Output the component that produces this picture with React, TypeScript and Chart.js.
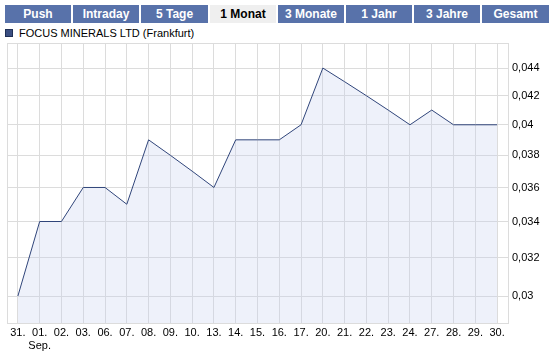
import React, { useEffect, useRef } from "react";
import { Chart, registerables } from "chart.js";

Chart.register(...registerables);

const tabs = ["Push", "Intraday", "5 Tage", "1 Monat", "3 Monate", "1 Jahr", "3 Jahre", "Gesamt"];
const activeTab = "1 Monat";
const seriesName = "FOCUS MINERALS LTD (Frankfurt)";

const categories: (string | string[])[] = [
  "31.", ["01.", "Sep."], "02.", "03.", "06.", "07.", "08.", "09.", "10.", "13.", "14.", "15.",
  "16.", "17.", "20.", "21.", "22.", "23.", "24.", "27.", "28.", "29.", "30.",
];
const prices = [
  0.03, 0.034, 0.034, 0.036, 0.036, 0.035, 0.039, 0.038, 0.037, 0.036, 0.039, 0.039,
  0.039, 0.04, 0.044, 0.043, 0.042, 0.041, 0.04, 0.041, 0.04, 0.04, 0.04,
];
const yTicks = [0.03, 0.032, 0.034, 0.036, 0.038, 0.04, 0.042, 0.044];
const yMin = 0.02867;
const yMax = 0.04589;

const FONT = "'Liberation Sans', Arial, sans-serif";
const GRID = "#dcdcdc";

const frame = {
  id: "frame",
  beforeDatasetsDraw(chart: any) {
    const { ctx, chartArea: a } = chart;
    ctx.save();
    ctx.strokeStyle = GRID;
    ctx.lineWidth = 1;
    ctx.strokeRect(Math.round(a.left) + 0.5, Math.round(a.top) + 0.5, Math.round(a.right - a.left), Math.round(a.bottom - a.top));
    ctx.restore();
  },
};

export default function App() {
  const ref = useRef<HTMLCanvasElement | null>(null);

  useEffect(() => {
    if (!ref.current) return;
    const chart = new Chart(ref.current, {
      type: "line",
      data: {
        labels: categories,
        datasets: [
          {
            label: seriesName,
            data: prices,
            borderColor: "#30457a",
            borderWidth: 1,
            backgroundColor: "rgba(198,208,238,0.3)",
            fill: "start",
            pointRadius: 0,
            tension: 0,
          },
        ],
      },
      options: {
        animation: false,
        responsive: false,
        devicePixelRatio: 1,
        layout: { padding: { left: 7, top: 43, right: 0, bottom: 0 } },
        plugins: { legend: { display: false }, tooltip: { enabled: false } },
        scales: {
          x: {
            offset: true,
            grid: { color: GRID, drawTicks: false, offset: false },
            border: { display: false },
            ticks: {
              autoSkip: false,
              maxRotation: 0,
              padding: 3,
              color: "#000",
              font: { family: FONT, size: 11 },
            },
            afterFit: (s: any) => {
              s.height = 28;
            },
          },
          y: {
            type: "logarithmic",
            position: "right",
            min: yMin,
            max: yMax,
            grid: { color: GRID, drawTicks: false },
            border: { display: false },
            afterBuildTicks: (s: any) => {
              s.ticks = yTicks.map((v) => ({ value: v }));
            },
            ticks: {
              padding: 4,
              color: "#000",
              font: { family: FONT, size: 11 },
              callback: (v: any) => String(v).replace(".", ","),
            },
            afterFit: (s: any) => {
              s.width = 47;
            },
          },
        },
      },
      plugins: [frame],
    });
    return () => chart.destroy();
  }, []);

  return (
    <div style={{ position: "fixed", left: 0, top: 0, width: 555, height: 351, background: "#fff", overflow: "hidden" }}>
      {tabs.map((t, i) => {
        const left = Math.round(5 + i * 68.2);
        const right = Math.round(5 + (i + 1) * 68.2) - 2;
        const active = t === activeTab;
        return (
          <div
            key={t}
            style={{
              position: "absolute",
              left,
              top: 5,
              width: right - left,
              height: 18,
              lineHeight: "18px",
              textAlign: "center",
              background: active ? "#efefef" : "#5872aa",
              color: active ? "#000" : "#fff",
              fontFamily: FONT,
              fontWeight: "bold",
              fontSize: 12,
            }}
          >
            {t}
          </div>
        );
      })}
      <div
        style={{
          position: "absolute",
          left: 5,
          top: 29,
          width: 6,
          height: 6,
          background: "#3b4f82",
          border: "1px solid #1f2f55",
        }}
      />
      <div
        style={{
          position: "absolute",
          left: 19,
          top: 26,
          fontFamily: FONT,
          fontSize: 11,
          lineHeight: "14px",
          color: "#000",
          whiteSpace: "nowrap",
        }}
      >
        {seriesName}
      </div>
      <canvas ref={ref} width={555} height={351} style={{ position: "absolute", left: 0, top: 0 }} />
    </div>
  );
}
